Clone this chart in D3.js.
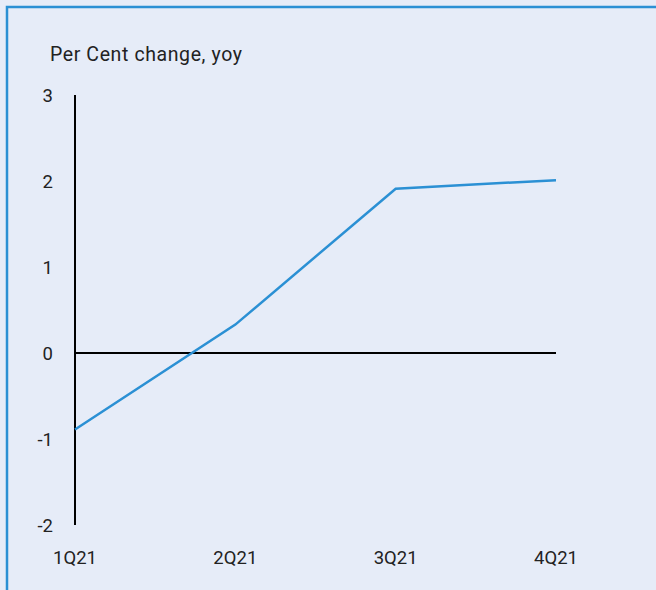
<!DOCTYPE html>
<html><head><meta charset="utf-8">
<script src="https://cdn.jsdelivr.net/npm/d3@7"></script>
<style>
html,body{margin:0;padding:0;background:#e6ecf8;}
svg{display:block;}
text{font-family:Roboto,"Noto Sans",sans-serif;fill:#222;font-weight:400;}
</style></head>
<body>
<script>
const quarters = ["1Q21","2Q21","3Q21","4Q21"];
const values = [-0.89, 0.33, 1.91, 2.01];
const yTicks = [3,2,1,0,-1,-2];
const title = "Per Cent change, yoy";

const W = 656, H = 590;
const svg = d3.select("body").append("svg").attr("width", W).attr("height", H);
svg.append("rect").attr("width", W).attr("height", H).attr("fill", "#e6ecf8");

// frame (top and left edges)
svg.append("path").attr("d", `M7,${H} L7,7 L${W},7`).attr("fill","none")
  .attr("stroke","#2b90d4").attr("stroke-width",2.5);

const x = d3.scalePoint().domain(quarters).range([75, 556]);
const y = d3.scaleLinear().domain([-2,3]).range([525, 95]);

// title
svg.append("text").attr("x", 50).attr("y", 61).attr("font-size", 19.5)
  .attr("letter-spacing", "0.6px").text(title);

// y axis line
svg.append("line").attr("x1", x(quarters[0])).attr("x2", x(quarters[0]))
  .attr("y1", y(3)).attr("y2", y(-2)).attr("stroke","#000").attr("stroke-width",2);

// y tick labels
svg.selectAll(".yt").data(yTicks).enter().append("text")
  .attr("x", 53).attr("y", d => y(d)).attr("dy","0.36em")
  .attr("text-anchor","end").attr("font-size",18.5).text(d => d);

// x labels
svg.selectAll(".xt").data(quarters).enter().append("text")
  .attr("x", d => x(d)).attr("y", y(-2) + 32).attr("dy","0.36em")
  .attr("text-anchor","middle").attr("font-size",18.5).text(d => d);

// zero line
svg.append("line").attr("x1", x(quarters[0])).attr("x2", x(quarters[quarters.length-1]))
  .attr("y1", y(0)).attr("y2", y(0)).attr("stroke","#000").attr("stroke-width",2);

// series line
const line = d3.line().x((d,i) => x(quarters[i])).y(d => y(d));
svg.append("path").datum(values).attr("d", line).attr("fill","none")
  .attr("stroke","#2b90d4").attr("stroke-width",2.5);
</script>
</body></html>
